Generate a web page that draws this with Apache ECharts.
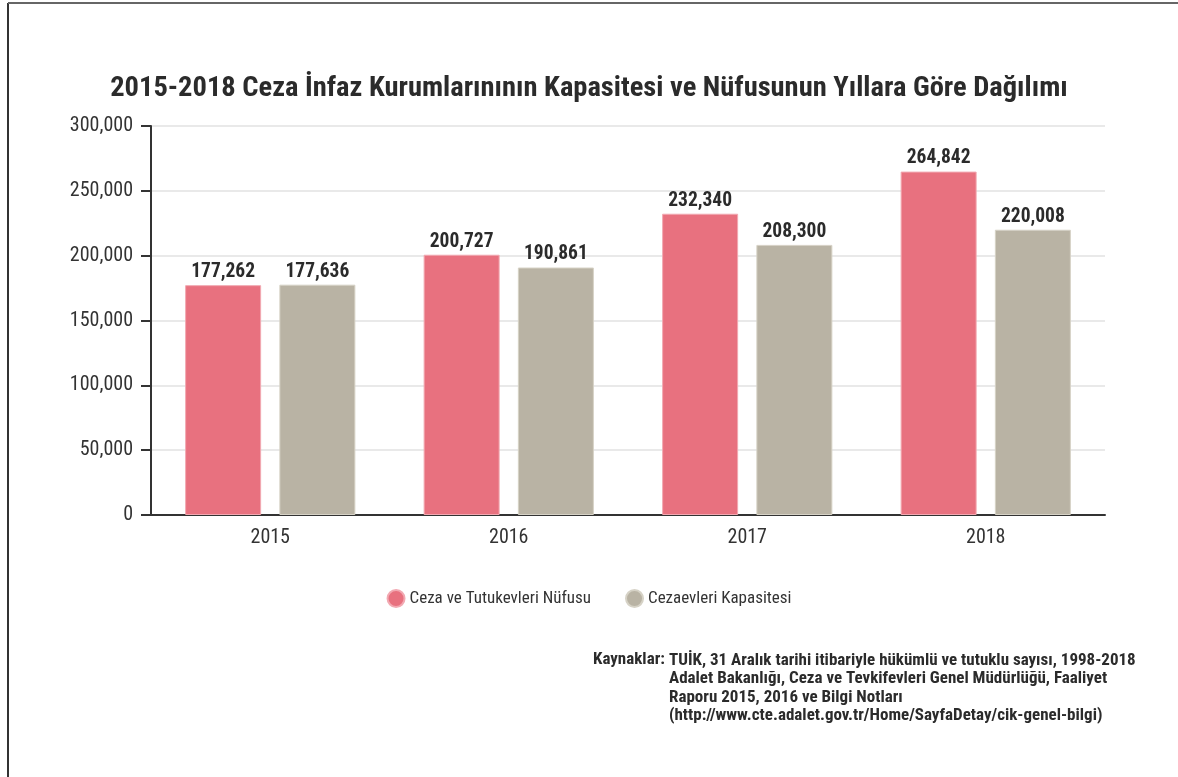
<!DOCTYPE html>
<html>
<head>
<meta charset="utf-8">
<script src="https://cdn.jsdelivr.net/npm/echarts@6/dist/echarts.min.js"></script>
<style>
  html, body { margin: 0; padding: 0; background: #fff; }
  #chart { width: 1178px; height: 777px; }
</style>
</head>
<body>
<div id="chart"></div>
<script>
// data
const YEARS = ['2015', '2016', '2017', '2018'];
const NUFUS = [177262, 200727, 232340, 264842];
const KAPASITE = [177636, 190861, 208300, 220008];
const SERIES_NAMES = ['Ceza ve Tutukevleri Nüfusu', 'Cezaevleri Kapasitesi'];
const SOURCE_LINES = [
  'TUİK, 31 Aralık tarihi itibariyle hükümlü ve tutuklu sayısı, 1998-2018',
  'Adalet Bakanlığı, Ceza ve Tevkifevleri Genel Müdürlüğü, Faaliyet',
  'Raporu 2015, 2016 ve Bilgi Notları',
  '(http://www.cte.adalet.gov.tr/Home/SayfaDetay/cik-genel-bilgi)'
];

const FONT = '"Roboto Condensed", "Liberation Sans Narrow", "DejaVu Sans Condensed", Roboto, sans-serif';
const fmt = v => v.toLocaleString('en-US');

var myChart = echarts.init(document.getElementById('chart'));

myChart.setOption({
  backgroundColor: '#fff',
  textStyle: { fontFamily: FONT },
  title: {
    text: '2015-2018 Ceza İnfaz Kurumlarınının Kapasitesi ve Nüfusunun Yıllara Göre Dağılımı',
    left: 'center',
    top: 69,
    textStyle: {
      fontFamily: FONT,
      fontSize: 28.5,
      fontWeight: 'bold',
      color: '#2b2b2b'
    }
  },
  grid: {
    left: 151,
    right: 73,
    top: 126,
    bottom: 262
  },
  legend: {
    data: SERIES_NAMES,
    top: 584,
    left: 'center',
    icon: 'circle',
    itemWidth: 17,
    itemHeight: 17,
    itemGap: 34,
    textStyle: { fontFamily: FONT, fontSize: 17, color: '#333' }
  },
  xAxis: {
    type: 'category',
    data: YEARS,
    axisLine: { lineStyle: { color: '#333', width: 2 } },
    axisTick: { alignWithLabel: true, length: 10, lineStyle: { color: '#333', width: 2 } },
    axisLabel: { fontFamily: FONT, fontSize: 20, color: '#333', margin: 13 }
  },
  yAxis: {
    type: 'value',
    min: 0,
    max: 300000,
    interval: 50000,
    axisLine: { show: true, lineStyle: { color: '#333', width: 2 } },
    axisTick: { show: true, length: 10, lineStyle: { color: '#333', width: 2 } },
    axisLabel: {
      fontFamily: FONT,
      fontSize: 20,
      color: '#333',
      margin: 18,
      formatter: v => fmt(v)
    },
    splitLine: { lineStyle: { color: '#e2e2e2', width: 1.5 } }
  },
  series: [
    {
      name: SERIES_NAMES[0],
      type: 'bar',
      data: NUFUS,
      barWidth: 76,
      barGap: '24%',
      itemStyle: { color: '#e8717f', borderColor: '#f2a9b2', borderWidth: 1 },
      label: {
        show: true,
        position: 'top',
        distance: 3,
        fontFamily: FONT,
        fontSize: 19.5,
        fontWeight: 'bold',
        color: '#2b2b2b',
        formatter: p => fmt(p.value)
      }
    },
    {
      name: SERIES_NAMES[1],
      type: 'bar',
      data: KAPASITE,
      barWidth: 76,
      itemStyle: { color: '#b9b3a4', borderColor: '#d6d2c6', borderWidth: 1 },
      label: {
        show: true,
        position: 'top',
        distance: 3,
        fontFamily: FONT,
        fontSize: 19.5,
        fontWeight: 'bold',
        color: '#2b2b2b',
        formatter: p => fmt(p.value)
      }
    }
  ],
  graphic: [
    // frame lines on the left and top edge
    { type: 'line', shape: { x1: 8, y1: 3, x2: 8, y2: 777 }, style: { stroke: '#333', lineWidth: 2 } },
    { type: 'line', shape: { x1: 8, y1: 3, x2: 1178, y2: 3 }, style: { stroke: '#666', lineWidth: 2 } },
    {
      type: 'text',
      left: 593,
      top: 651,
      style: {
        text: 'Kaynaklar:',
        font: 'bold 17px ' + FONT,
        fill: '#2b2b2b'
      }
    },
    {
      type: 'text',
      left: 669,
      top: 651,
      style: {
        text: SOURCE_LINES.join('\n'),
        font: 'bold 17px ' + FONT,
        lineHeight: 18.5,
        fill: '#2b2b2b'
      }
    }
  ]
});
</script>
</body>
</html>
